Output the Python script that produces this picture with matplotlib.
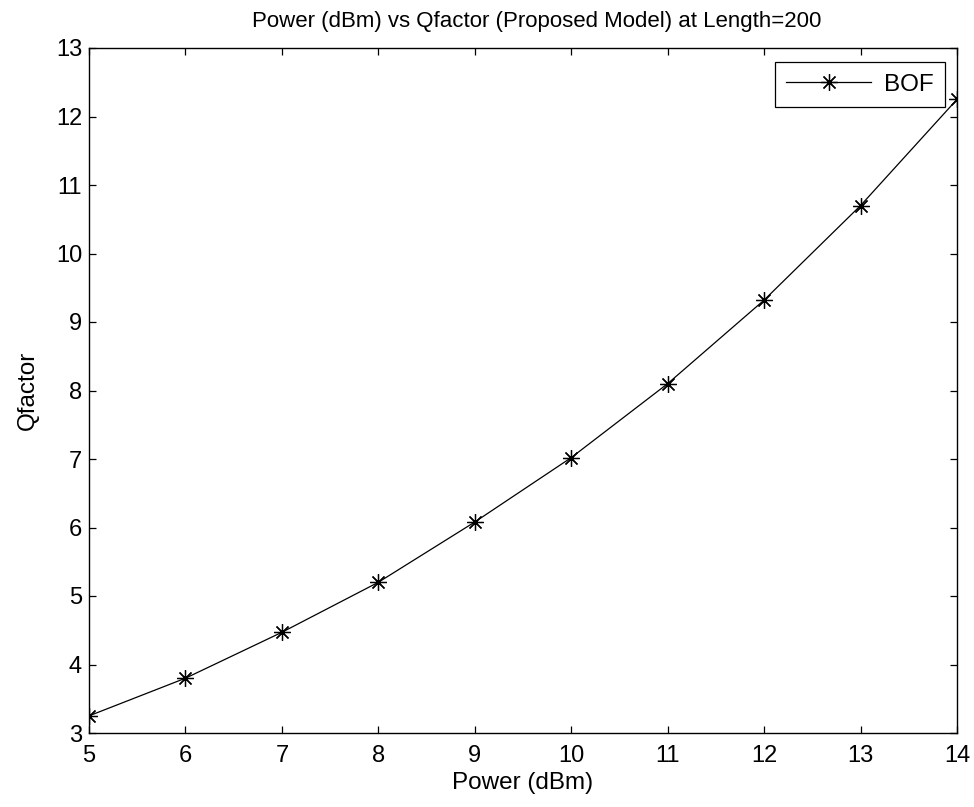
import matplotlib as mpl
mpl.use("Agg")
import matplotlib.pyplot as plt

mpl.rcParams['font.family'] = ['Liberation Sans', 'DejaVu Sans']

power = [5, 6, 7, 8, 9, 10, 11, 12, 13, 14]
qfactor = [3.25, 3.8, 4.47, 5.2, 6.08, 7.02, 8.1, 9.32, 10.7, 12.25]
xticks = list(range(5, 15))
yticks = list(range(3, 14))

fig = plt.figure(figsize=(9.74, 8.07), dpi=100)
ax = fig.add_axes([89/974, 1 - 733/807, (957 - 89)/974, (733 - 48)/807])

ax.plot(power, qfactor, color='black', lw=0.9, marker=(8, 2, 0), markersize=12,
        markeredgewidth=0.9, label='BOF')

ax.set_xlim(5, 14)
ax.set_ylim(3, 13)
ax.set_xticks(xticks)
ax.set_yticks(yticks)
ax.tick_params(direction='in', top=True, right=True, labelsize=17, length=5, width=0.9)
ax.tick_params(axis='x', pad=9)
ax.tick_params(axis='y', pad=5)
for s in ax.spines.values():
    s.set_linewidth(1.0)

ax.set_xlabel('Power (dBm)', fontsize=17.5, labelpad=3)
ax.set_ylabel('Qfactor', fontsize=17.5, labelpad=12)
ax.set_title('Power (dBm) vs Qfactor (Proposed Model) at Length=200', fontsize=16, pad=15,
             x=0.516)

leg = ax.legend(loc='upper right', fontsize=17.5, fancybox=False, framealpha=1,
                edgecolor='black', handlelength=3.5, borderaxespad=0,
                bbox_to_anchor=(945/974, 1 - 62/807), bbox_transform=fig.transFigure,
                borderpad=0.48, handletextpad=0.5)
leg.get_frame().set_linewidth(0.9)

fig.savefig('out.png', dpi=100)
